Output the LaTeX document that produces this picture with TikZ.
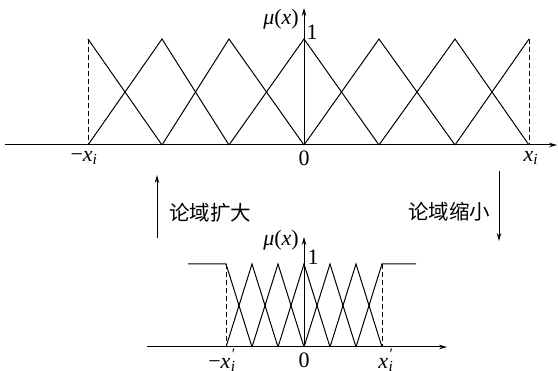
\documentclass[tikz,border=0pt]{standalone}
\usepackage{fontspec}
\setmainfont{Liberation Serif}
\newfontfamily\cjk{Noto Sans CJK SC}
\usetikzlibrary{arrows.meta}
\tikzset{
  axis/.style={line width=1pt,-{Stealth[length=8pt,width=4.5pt]}},
  memb/.style={line width=1pt,line join=miter},
  guide/.style={line width=1pt,dash pattern=on 5pt off 3pt},
  lab/.style={font=\fontsize{22pt}{22pt}\selectfont,inner sep=0pt},
  cjklab/.style={font=\cjk\fontsize{20.5pt}{21pt}\selectfont,inner sep=0pt},
  zoomarrow/.style={line width=1pt,-{Stealth[length=8pt,width=4.5pt]}}
}
\newcommand{\xsub}{\textit{x}\textsubscript{\textit{i}}}
\newcommand{\xpsub}{\textit{x}\kern0.5pt\ooalign{\raisebox{0.4em}{\fontsize{16pt}{16pt}\selectfont\kern1pt ′}\cr\textsubscript{\textit{i}}\cr}}
\begin{document}
\begin{tikzpicture}[x=1pt,y=-1pt]
\useasboundingbox (0,0) rectangle (558,371);
% ---------- top diagram ----------
\coordinate (ta0) at (5,145);
\coordinate (ta1) at (557,145);
\coordinate (ty0) at (304,145);
\coordinate (ty1) at (304,8);
\draw[axis] (ta0) -- (ta1);
\draw[axis] (ty0) -- (ty1);
\foreach \i/\x in {0/88,1/162,2/229,3/304,4/379,5/455,6/529}{
  \coordinate (tp\i) at (\x,39);
  \coordinate (tb\i) at (\x,145);
}
\draw[memb] (tp0) -- (tb1);
\foreach \k/\a/\b in {1/0/2,2/1/3,3/2/4,4/3/5,5/4/6}{
  \draw[memb] (tb\a) -- (tp\k) -- (tb\b);
}
\draw[memb] (tb5) -- (tp6);
\draw[guide] (tp0) -- (tb0);
\draw[guide] (tp6) -- (tb6);
\node[lab] (tmu) at (281,19) {\textit{μ}(\textit{x})};
\node[lab] (tone) at (312,32) {1};
\node[lab] (tneg) at (84,158) {−\xsub};
\node[lab] (tzero) at (304,158) {0};
\node[lab] (tpos) at (531,158) {\xsub};
% ---------- arrows between ----------
\coordinate (ua0) at (157,238);
\coordinate (ua1) at (157,175);
\coordinate (da0) at (499,171);
\coordinate (da1) at (499,241);
\draw[zoomarrow] (ua0) -- (ua1);
\draw[zoomarrow] (da0) -- (da1);
\node[cjklab] (expand) at (210,213) {论域扩大};
\node[cjklab] (shrink) at (449,212) {论域缩小};
% ---------- bottom diagram ----------
\coordinate (ba0) at (147,347);
\coordinate (ba1) at (447,347);
\coordinate (by0) at (304,347);
\coordinate (by1) at (304,237);
\draw[axis] (ba0) -- (ba1);
\draw[axis] (by0) -- (by1);
\foreach \i/\x in {0/226,1/252,2/278,3/304,4/330,5/356,6/382}{
  \coordinate (bp\i) at (\x,264);
  \coordinate (bb\i) at (\x,347);
}
\coordinate (bl) at (188,264);
\coordinate (br) at (416,264);
\draw[memb] (bl) -- (bp0) -- (bb1);
\foreach \k/\a/\b in {1/0/2,2/1/3,3/2/4,4/3/5,5/4/6}{
  \draw[memb] (bb\a) -- (bp\k) -- (bb\b);
}
\draw[memb] (bb5) -- (bp6) -- (br);
\draw[guide] (bp0) -- (bb0);
\draw[guide] (bp6) -- (bb6);
\node[lab] (bmu) at (281,240) {\textit{μ}(\textit{x})};
\node[lab] (bone) at (313,257) {1};
\node[lab] (bneg) at (222,360) {−\xpsub};
\node[lab] (bzero) at (304,360) {0};
\node[lab] (bpos) at (386,360) {\xpsub};
\end{tikzpicture}
\end{document}
